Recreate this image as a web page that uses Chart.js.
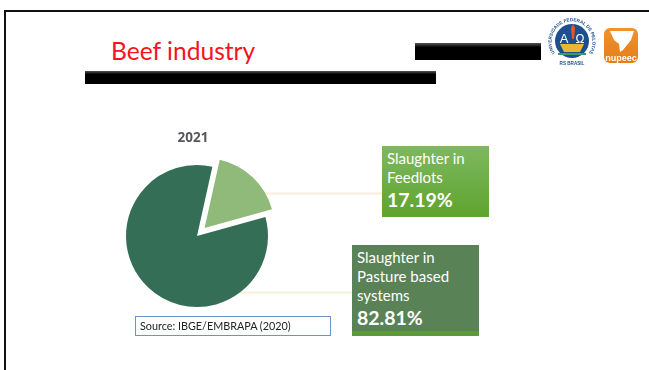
<!DOCTYPE html>
<html>
<head>
<meta charset="utf-8">
<title>Beef industry</title>
<script src="https://cdn.jsdelivr.net/npm/chart.js@4"></script>
<style>
  html, body { margin: 0; padding: 0; background: #fff; }
  #slide { position: relative; width: 649px; height: 370px; overflow: hidden; font-family: Lato, sans-serif; }
  #pie { position: absolute; left: 0; top: 0; }
  .frame { position: absolute; left: 4px; top: 10px; width: 660px; height: 370px; border: 2.5px solid #111; }
  .bar { position: absolute; background: linear-gradient(#555 0, #000 25%, #000 100%); }
  #heading { position: absolute; left: 111px; top: 36px; font-size: 24.6px; line-height: 30px; color: #f5141e; }
  #year { position: absolute; left: 163px; top: 128px; width: 60px; text-align: center; font: bold 13.5px "Open Sans", sans-serif; color: #55575a; }
  .callout { position: absolute; box-sizing: border-box; padding: 3px 5px; color: #fff; font-size: 15px; line-height: 19px; }
  .callout b { display: block; font-size: 19.5px; line-height: 25px; }
  #feedlots { left: 382px; top: 146px; width: 107px; height: 71px; background: linear-gradient(#7fb85f, #5fa42f); }
  #pasture { left: 352px; top: 245px; width: 127px; height: 91px; background: linear-gradient(#5a8257 95%, #5d9a3a 95%); }
  #source { position: absolute; left: 135px; top: 316px; width: 194px; height: 18px; border: 1px solid #6f8fce; font-size: 10.8px; line-height: 18px; text-indent: 4px; color: #222; }
  #logos { position: absolute; left: 0; top: 0; }
</style>
</head>
<body>
<div id="slide">
  <div class="frame"></div>
  <div class="bar" style="left:415px;top:43px;width:126px;height:17px"></div>
  <div class="bar" style="left:85px;top:71px;width:351px;height:13px"></div>
  <div id="heading">Beef industry</div>
  <canvas id="pie" width="649" height="370"></canvas>
  <div id="year"></div>
  <div class="callout" id="feedlots"></div>
  <div class="callout" id="pasture"></div>
  <div id="source">Source: IBGE/EMBRAPA (2020)</div>
  <svg id="logos" width="649" height="370">
    <defs>
      <path id="ringPath" d="M555.2 53.5A20.5 20.5 0 1 1 588.8 53.5"/>
      <linearGradient id="orange" x1="0" y1="0" x2="0" y2="1">
        <stop offset="0" stop-color="#f0922c"/>
        <stop offset="1" stop-color="#e57d18"/>
      </linearGradient>
    </defs>
    <circle cx="572" cy="42" r="26" fill="#fff"/>
    <text font-size="4.6" font-weight="bold" fill="#1d4f8f" font-family="Liberation Sans"><textPath href="#ringPath" startOffset="50%" text-anchor="middle">UNIVERSIDADE FEDERAL DE PELOTAS</textPath></text>
    <circle cx="572" cy="41" r="17" fill="#1d4f8f"/>
    <text x="564" y="43" font-size="13" fill="#fff" text-anchor="middle" font-family="Liberation Sans">A</text>
    <text x="580" y="43" font-size="12" fill="#fff" text-anchor="middle" font-family="Liberation Sans">Ω</text>
    <path d="M571 28l2-4 2 4-1 11h-2z" fill="#e8552a"/>
    <path d="M560 44h24l-4 8h-16z" fill="#e8b830"/>
    <path d="M558 54h28" stroke="#3f9a62" stroke-width="2"/>
    <text x="572" y="65" font-size="4.6" font-weight="bold" fill="#1d4f8f" text-anchor="middle" font-family="Liberation Sans">RS BRASIL</text>
    <rect x="604" y="28" width="34" height="35" rx="6" fill="url(#orange)"/>
    <path d="M610 31h24l-3 9-8 10-3 2-1-8-5-4z" fill="#fff"/>
    <text x="621" y="61" font-size="9" font-weight="bold" fill="#fff" text-anchor="middle" font-family="Liberation Sans">nupeec</text>
  </svg>
</div>
<script>
// slaughter share by production system, 2021
const year = "2021";
const systems = ["Slaughter in Pasture based systems", "Slaughter in Feedlots"];
const shares = [82.81, 17.19];
const sliceColors = ["#356e56", "#8fba7a"];
const firstAngle = 12.5 + 61.9; // degrees, where the pasture slice starts

document.getElementById("year").textContent = year;
document.getElementById("feedlots").innerHTML = "Slaughter in<br>Feedlots<b>" + shares[1].toFixed(2) + "%</b>";
document.getElementById("pasture").innerHTML = "Slaughter in<br>Pasture based<br>systems<b>" + shares[0].toFixed(2) + "%</b>";

// pale lines running from the slices to their boxes
const leaderLines = {
  id: "leaderLines",
  beforeDatasetsDraw(chart) {
    const { ctx } = chart;
    ctx.save();
    ctx.strokeStyle = "#fbeedd";
    ctx.lineWidth = 2;
    ctx.beginPath();
    ctx.moveTo(260, 193.5);
    ctx.lineTo(382, 193.5);
    ctx.moveTo(240, 292.5);
    ctx.lineTo(352, 292.5);
    ctx.stroke();
    ctx.restore();
  }
};

// pulls the small slice out of the pie without changing its radius
const pullSlice = {
  id: "pullSlice",
  afterDatasetsUpdate(chart) {
    const arc = chart.getDatasetMeta(0).data[1];
    const mid = (arc.startAngle + arc.endAngle) / 2;
    arc.x += Math.cos(mid) * 11;
    arc.y += Math.sin(mid) * 11;
    arc.outerRadius -= 1;
  }
};

new Chart(document.getElementById("pie"), {
  type: "pie",
  data: {
    labels: systems,
    datasets: [{
      data: shares,
      backgroundColor: sliceColors,
      borderWidth: 0,
      hoverOffset: 0
    }]
  },
  plugins: [leaderLines, pullSlice],
  options: {
    responsive: false,
    animation: false,
    rotation: firstAngle,
    radius: 71,
    layout: { padding: { left: 126, right: 381, top: 165, bottom: 63 } },
    plugins: {
      legend: { display: false },
      tooltip: { enabled: false }
    }
  }
});
</script>
</body>
</html>
